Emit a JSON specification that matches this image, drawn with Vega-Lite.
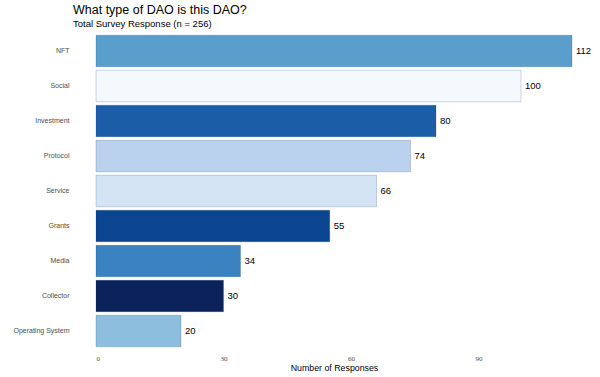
{
  "$schema": "https://vega.github.io/schema/vega-lite/v6.json",
  "width": 476,
  "height": 322,
  "autosize": "none",
  "padding": {"left": 96, "top": 30, "right": 28, "bottom": 25},
  "background": "white",
  "view": {"stroke": null},
  "title": {
    "text": "What type of DAO is this DAO?",
    "subtitle": "Total Survey Response (n = 256)",
    "anchor": "start",
    "frame": "group",
    "dx": -23,
    "offset": 2,
    "font": "Liberation Sans",
    "fontSize": 12.5,
    "fontWeight": "normal",
    "color": "#000000",
    "subtitleFont": "Liberation Sans",
    "subtitleFontSize": 9.5,
    "subtitleColor": "#000000",
    "subtitlePadding": 2
  },
  "data": {
    "values": [
      {"type": "NFT", "n": 112},
      {"type": "Social", "n": 100},
      {"type": "Investment", "n": 80},
      {"type": "Protocol", "n": 74},
      {"type": "Service", "n": 66},
      {"type": "Grants", "n": 55},
      {"type": "Media", "n": 34},
      {"type": "Collector", "n": 30},
      {"type": "Operating System", "n": 20}
    ]
  },
  "encoding": {
    "y": {
      "field": "type",
      "type": "nominal",
      "sort": {"field": "n", "order": "descending"},
      "scale": {"paddingInner": 0.1, "paddingOuter": 0.15},
      "axis": {
        "title": null,
        "domain": false,
        "ticks": false,
        "labelFont": "Liberation Sans",
        "labelFontSize": 7,
        "labelColor": "#4d4d4d",
        "labelPadding": 27
      }
    },
    "x": {
      "field": "n",
      "type": "quantitative",
      "scale": {"domain": [0, 112], "nice": false, "zero": true},
      "axis": {
        "values": [0, 30, 60, 90],
        "title": "Number of Responses",
        "titleFont": "Liberation Sans",
        "titleFontSize": 8.8,
        "titleFontWeight": "normal",
        "titleColor": "#000000",
        "titlePadding": 2,
        "domain": false,
        "ticks": false,
        "grid": false,
        "labelFont": "Liberation Serif",
        "labelFontSize": 7,
        "labelColor": "#4d4d4d",
        "labelPadding": 2
      }
    }
  },
  "layer": [
    {
      "mark": {"type": "bar", "stroke": "#08306b", "strokeOpacity": 0.2, "strokeWidth": 1},
      "encoding": {
        "color": {
          "field": "type",
          "type": "nominal",
          "scale": {
            "domain": ["NFT", "Social", "Investment", "Protocol", "Service", "Grants", "Media", "Collector", "Operating System"],
            "range": ["#5a9fcc", "#f4f9fe", "#1c5da8", "#bad2ed", "#d4e4f4", "#0b4590", "#3a82c0", "#0a2159", "#8ebedd"]
          },
          "legend": null
        }
      }
    },
    {
      "mark": {"type": "text", "align": "left", "dx": 4, "font": "Liberation Sans", "fontSize": 9.5, "color": "#000000", "clip": false},
      "encoding": {"text": {"field": "n", "type": "quantitative"}}
    }
  ]
}
